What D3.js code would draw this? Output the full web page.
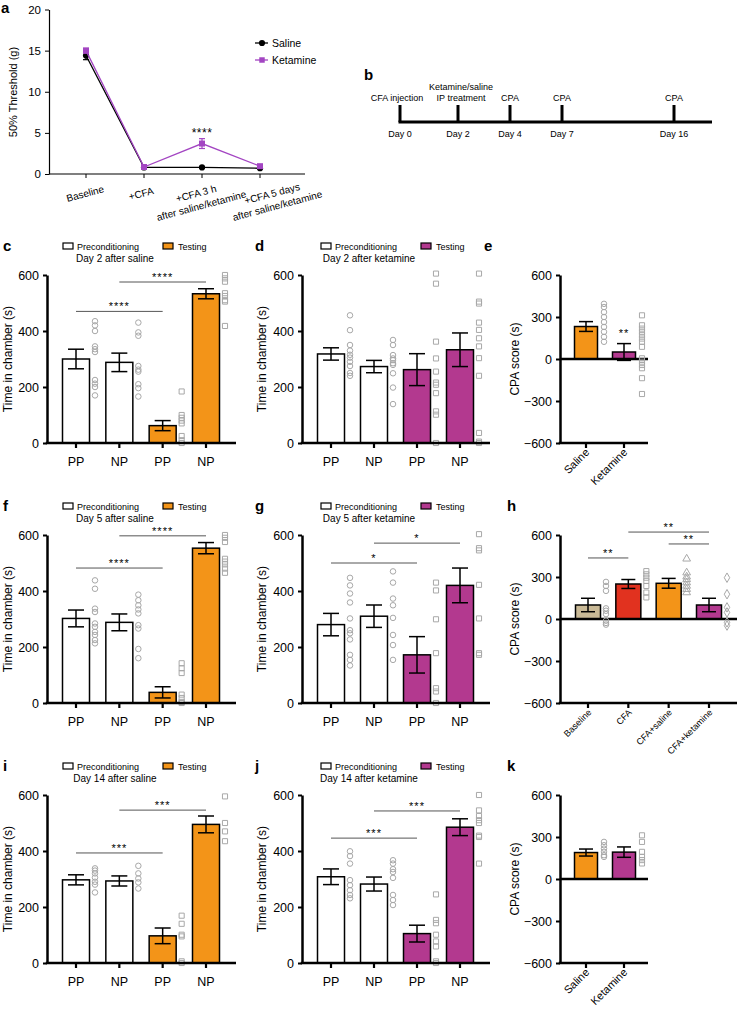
<!DOCTYPE html>
<html><head><meta charset="utf-8">
<script src="https://cdn.jsdelivr.net/npm/d3@7"></script>
<style>body{margin:0;background:#fff} svg{display:block} text{font-family:"Liberation Sans",Arial,Helvetica,sans-serif;fill:#000}</style>
</head><body><svg width="737" height="1011"></svg>
<script>
// ---------- DATA ----------
// panel a
const aCategories = ["Baseline", "+CFA", "+CFA 3 h|after saline/ketamine", "+CFA 5 days|after saline/ketamine"];
const aSaline = [14.4, 0.8, 0.8, 0.7];
const aSalineErr = [0.5, 0.1, 0.1, 0.1];
const aKetamine = [15.0, 0.85, 3.7, 0.95];
const aKetamineErr = [0.3, 0.15, 0.6, 0.2];
const aTicks = [0, 5, 10, 15, 20];
// panel b
const bDays = [0, 2, 4, 7, 16];
const bEvents = [["CFA injection"], ["Ketamine/saline", "IP treatment"], ["CPA"], ["CPA"], ["CPA"]];
// chamber panels
const chamberCats = ["PP", "NP", "PP", "NP"];
const chamberTicks = [0, 200, 400, 600];
const cpaTicks = [-600, -300, 0, 300, 600];
const cMeans = [300, 288, 62, 533], cErr = [35, 33, 18, 18];
const cDots = [[435,420,400,345,335,325,225,212,200,170],[430,395,383,275,262,255,210,196,166],[184,100,90,80,70,25,10,0],[600,588,576,535,525,510,505,418]];
const cSig = [[0,2,470,"****"],[1,3,575,"****"]];
const dMeans = [318, 273, 262, 333], dErr = [22, 22, 57, 60];
const dDots = [[456,403,350,330,315,305,290,275,250,240],[368,350,314,302,296,285,279,249,198,139],[605,569,362,302,255,216,208,178,113,101,0],[605,505,498,430,404,374,345,303,240,36,5,0]];
const eCats = ["Saline", "Ketamine"];
const eMeans = [232, 50], eErr = [35, 60];
const eDots = [[394,371,335,300,264,229,194,158,123],[312,241,217,194,170,146,123,87,5,-19,-43,-66,-137,-250]];
const eSig = [[1,1,150,"**"]];
const fMeans = [302, 288, 38, 553], fErr = [30, 30, 20, 20];
const fDots = [[438,408,337,325,284,272,254,243,225,213],[387,367,349,334,320,278,266,193,160],[142,124,107,30,18,4,0],[600,590,575,515,505,495,480,465]];
const fSig = [[0,2,482,"****"],[1,3,597,"****"]];
const gMeans = [280, 310, 172, 420], gErr = [40, 40, 65, 62];
const gDots = [[447,420,391,359,302,260,249,227,172,154,134],[470,430,373,349,304,243,207,154],[430,402,299,178,53,41,0],[603,553,545,422,302,178,172]];
const gSig = [[0,2,500,"*"],[1,3,571,"*"]];
const hCats = ["Baseline", "CFA", "CFA+saline", "CFA+ketamine"];
const hMeans = [100, 250, 255, 100], hErr = [48, 32, 35, 48];
const hDots = [[265,236,201,76,59,35,-12,-28,-40],[342,319,295,272,236,189,154],[430,331,302,283,260,236,213,189],[295,177,83,47,-24,-47]];
const hSig = [[0,1,436,"**"],[1,3,621,"**"],[2,3,536,"**"]];
const iMeans = [297, 293, 97, 495], iErr = [18, 18, 28, 30];
const iDots = [[338,330,320,305,290,280,252],[347,320,302,288,266],[169,140,101,95,6,0],[595,500,470,435]];
const iSig = [[0,2,393,"***"],[1,3,546,"***"]];
const jMeans = [308, 282, 105, 485], jErr = [28, 25, 30, 30];
const jDots = [[399,382,355,296,278,260,243,231],[367,355,335,325,304,243,225,207],[245,154,142,101,77,59,6,0],[600,545,525,510,500,455,450,355]];
const jSig = [[0,2,446,"***"],[1,3,543,"***"]];
const kMeans = [189, 192], kErr = [25, 37];
const kDots = [[265,241,217,194,170,158],[312,265,194,158,135,111]];

// ---------- STYLE ----------
const ORANGE = "#f39418", MAGENTA = "#b3398f", TAN = "#c9b996", RED = "#e1321f", PURPLE = "#a345c2";
const DOT = "#a8a8a8";
const svg = d3.select("svg");

function letter(t, x, y) {
  svg.append("text").attr("x", x).attr("y", y).attr("font-size", 15).attr("font-weight", "bold").text(t);
}

// ---------- PANEL a ----------
(function () {
  const g = svg.append("g");
  const y = d3.scaleLinear().domain([0, 20]).range([174, 9.5]);
  const x = d3.scalePoint().domain(aCategories).range([86, 260]);
  const labelShift = [0, -2, -5, 13];
  const ya = g.append("g").attr("transform", "translate(49,0)")
    .call(d3.axisLeft(y).tickValues(aTicks).tickSize(4).tickPadding(4).tickSizeOuter(0));
  ya.select(".domain").attr("stroke-width", 1.2);
  ya.selectAll("text").attr("font-size", 11.5).attr("font-family", "Liberation Sans, Arial");
  g.append("line").attr("x1", 49).attr("x2", 305).attr("y1", 174).attr("y2", 174).attr("stroke", "#000").attr("stroke-width", 1.2);
  aCategories.forEach((c, ci) => {
    g.append("line").attr("x1", x(c)).attr("x2", x(c)).attr("y1", 174).attr("y2", 178).attr("stroke", "#000");
    const lines = c.split("|");
    const t = g.append("text").attr("text-anchor", "middle").attr("font-size", 10)
      .attr("transform", `translate(${x(c) + labelShift[ci]},${197}) rotate(-15)`);
    lines.forEach((l, i) => t.append("tspan").attr("x", i === 0 ? 0 : 2).attr("dy", i === 0 ? 0 : 13).text(l));
  });
  g.append("text").attr("transform", "translate(17,92) rotate(-90)").attr("text-anchor", "middle").attr("font-size", 11).text("50% Threshold (g)");
  const line = d3.line().x((d, i) => x(aCategories[i])).y(d => y(d));
  const series = [
    { v: aSaline, e: aSalineErr, c: "#000", s: d3.symbolCircle, size: 30 },
    { v: aKetamine, e: aKetamineErr, c: PURPLE, s: d3.symbolSquare, size: 36 }
  ];
  series.forEach(se => {
    g.append("path").attr("d", line(se.v)).attr("fill", "none").attr("stroke", se.c).attr("stroke-width", 1.3);
    se.v.forEach((v, i) => {
      const cx = x(aCategories[i]);
      g.append("line").attr("x1", cx).attr("x2", cx).attr("y1", y(v - se.e[i])).attr("y2", y(v + se.e[i])).attr("stroke", se.c).attr("stroke-width", 1.2);
      [v - se.e[i], v + se.e[i]].forEach(w => g.append("line").attr("x1", cx - 3).attr("x2", cx + 3).attr("y1", y(w)).attr("y2", y(w)).attr("stroke", se.c).attr("stroke-width", 1.2));
      g.append("path").attr("d", d3.symbol().type(se.s).size(se.size)()).attr("transform", `translate(${cx},${y(v)})`).attr("fill", se.c);
    });
  });
  g.append("text").attr("x", x(aCategories[2])).attr("y", y(aKetamine[2] + aKetamineErr[2]) - 2).attr("text-anchor", "middle").attr("font-size", 12).attr("letter-spacing", 0.5).text("****");
  [["Saline", "#000", d3.symbolCircle, 43], ["Ketamine", PURPLE, d3.symbolSquare, 60]].forEach(([t, c, s, ly]) => {
    g.append("line").attr("x1", 255).attr("x2", 268).attr("y1", ly).attr("y2", ly).attr("stroke", c).attr("stroke-width", 1.3);
    g.append("path").attr("d", d3.symbol().type(s).size(30)()).attr("transform", `translate(262,${ly})`).attr("fill", c);
    g.append("text").attr("x", 272).attr("y", ly + 4).attr("font-size", 10.5).text(t);
  });
})();
letter("a", 1, 13);

// ---------- PANEL b ----------
(function () {
  const g = svg.append("g");
  const bx = d3.scaleLinear().domain(bDays).range([400, 458, 510, 562, 674]);
  const lineY = 122;
  const shift = [-3, 3, 0, 0, 0];
  g.append("line").attr("x1", bx(0) - 1.5).attr("x2", bx(16) + 38).attr("y1", lineY).attr("y2", lineY).attr("stroke", "#000").attr("stroke-width", 3);
  bDays.forEach((d, i) => {
    g.append("line").attr("x1", bx(d)).attr("x2", bx(d)).attr("y1", 105).attr("y2", lineY).attr("stroke", "#000").attr("stroke-width", 3);
    g.append("text").attr("x", bx(d)).attr("y", 136.5).attr("text-anchor", "middle").attr("font-size", 9).text("Day " + d);
    const ev = bEvents[i];
    ev.forEach((l, k) => g.append("text").attr("x", bx(d) + shift[i]).attr("y", 101 - (ev.length - 1 - k) * 11).attr("text-anchor", "middle").attr("font-size", 9).text(l));
  });
})();
letter("b", 364, 80);

// ---------- BAR PANELS ----------
function barPanel(o) {
  const g = svg.append("g");
  const y = d3.scaleLinear().domain(o.domain).range([o.yBot, o.yTop]);
  const x = d3.scalePoint().domain(d3.range(o.means.length)).range(o.centers);
  o.means.forEach((m, i) => {
    const cx = x(i);
    g.append("rect").attr("x", cx - o.bw / 2).attr("y", y(Math.max(0, m))).attr("width", o.bw)
      .attr("height", Math.abs(y(m) - y(0))).attr("fill", o.fills[i]).attr("stroke", "#000").attr("stroke-width", 1.5);
  });
  if (o.domain[0] < 0) g.append("line").attr("x1", o.x0).attr("x2", o.xEnd).attr("y1", y(0)).attr("y2", y(0)).attr("stroke", "#000").attr("stroke-width", 2.5);
  o.means.forEach((m, i) => {
    const cx = x(i), e = o.errs[i];
    g.append("line").attr("x1", cx).attr("x2", cx).attr("y1", y(m - e)).attr("y2", y(m + e)).attr("stroke", "#000").attr("stroke-width", 1.5);
    [m - e, m + e].forEach(w => g.append("line").attr("x1", cx - o.cap).attr("x2", cx + o.cap).attr("y1", y(w)).attr("y2", y(w)).attr("stroke", "#000").attr("stroke-width", 1.5));
  });
  o.dots.forEach((arr, i) => {
    const sym = d3.symbol().type(o.shapes[i]).size(o.shapes[i] === d3.symbolCircle ? 24 : 26)();
    arr.forEach(v => g.append("path").attr("d", sym).attr("transform", `translate(${x(i) + o.dotOff},${y(v)})`)
      .attr("fill", "none").attr("stroke", DOT).attr("stroke-width", 1));
  });
  const ya = g.append("g").attr("transform", `translate(${o.x0},0)`)
    .call(d3.axisLeft(y).tickValues(o.ticks).tickFormat(d => d < 0 ? "\u2212" + Math.abs(d) : d).tickSize(4).tickPadding(4).tickSizeOuter(0));
  ya.select(".domain").attr("stroke-width", 2.5);
  ya.selectAll(".tick line").attr("stroke-width", 2);
  ya.selectAll("text").attr("font-size", 12.5).attr("font-family", "Liberation Sans, Arial");
  g.append("line").attr("x1", o.x0 - 1.25).attr("x2", o.xEnd).attr("y1", o.yBot).attr("y2", o.yBot).attr("stroke", "#000").attr("stroke-width", 2.5);
  o.cats.forEach((c, i) => {
    g.append("line").attr("x1", x(i)).attr("x2", x(i)).attr("y1", o.yBot).attr("y2", o.yBot + 5).attr("stroke", "#000").attr("stroke-width", 2.2);
    if (o.rotate) {
      g.append("text").attr("text-anchor", "end").attr("font-size", o.rotFont)
        .attr("transform", `translate(${x(i) + 4},${o.yBot + 10}) rotate(-45)`).text(c);
    } else {
      g.append("text").attr("x", x(i)).attr("y", o.yBot + 23).attr("text-anchor", "middle").attr("font-size", 12.5).text(c);
    }
  });
  g.append("text").attr("transform", `translate(${o.labelX},${(o.yTop + o.yBot) / 2}) rotate(-90)`)
    .attr("text-anchor", "middle").attr("font-size", 12).text(o.ylabel);
  (o.sig || []).forEach(([a, b, v, s]) => {
    if (a !== b) g.append("line").attr("x1", x(a)).attr("x2", x(b)).attr("y1", y(v)).attr("y2", y(v)).attr("stroke", "#555").attr("stroke-width", 1);
    g.append("text").attr("x", (x(a) + x(b)) / 2).attr("y", y(v) - 1).attr("text-anchor", "middle").attr("font-size", 11).attr("letter-spacing", 1).text(s);
  });
  if (o.legend) {
    const ly = o.yTop - 29;
    g.append("rect").attr("x", o.legX).attr("y", ly - 3).attr("width", 10).attr("height", 6).attr("fill", "#fff").attr("stroke", "#000").attr("stroke-width", 1.2);
    g.append("text").attr("x", o.legX + 14).attr("y", ly + 3.5).attr("font-size", 9).text("Preconditioning");
    g.append("rect").attr("x", o.legX + 100).attr("y", ly - 3).attr("width", 10).attr("height", 6).attr("fill", o.testFill).attr("stroke", "#000").attr("stroke-width", 1.2);
    g.append("text").attr("x", o.legX + 115).attr("y", ly + 3.5).attr("font-size", 9).text("Testing");
    g.append("text").attr("x", o.titleX).attr("y", o.yTop - 13).attr("text-anchor", "middle").attr("font-size", 10).text(o.title);
  }
}

const rows = [{ top: 275, bot: 443 }, { top: 535, bot: 703 }, { top: 795, bot: 963 }];
const col1 = { x0: 47, centers: [76, 206], xEnd: 236, labelX: 12, legX: 63, titleX: 115 };
const col2 = { x0: 302, centers: [331, 460], xEnd: 490, labelX: 266, legX: 321, titleX: 369 };
const wF = "#fff";
const chamberShapes = [d3.symbolCircle, d3.symbolCircle, d3.symbolSquare, d3.symbolSquare];

function chamber(col, row, means, errs, dots, sig, testFill, title) {
  barPanel(Object.assign({}, col, {
    yTop: rows[row].top, yBot: rows[row].bot, domain: [0, 600], ticks: chamberTicks, cats: chamberCats,
    means, errs, dots, sig, fills: [wF, wF, testFill, testFill], shapes: chamberShapes,
    bw: 27, cap: 8, dotOff: 19, ylabel: "Time in chamber (s)", legend: true, testFill, title
  }));
}
chamber(col1, 0, cMeans, cErr, cDots, cSig, ORANGE, "Day 2 after saline");
chamber(col2, 0, dMeans, dErr, dDots, [], MAGENTA, "Day 2 after ketamine");
chamber(col1, 1, fMeans, fErr, fDots, fSig, ORANGE, "Day 5 after saline");
chamber(col2, 1, gMeans, gErr, gDots, gSig, MAGENTA, "Day 5 after ketamine");
chamber(col1, 2, iMeans, iErr, iDots, iSig, ORANGE, "Day 14 after saline");
chamber(col2, 2, jMeans, jErr, jDots, jSig, MAGENTA, "Day 14 after ketamine");

function cpa(row, cats, means, errs, dots, sig, fills, shapes, centers, bw, xEnd, rotFont) {
  barPanel({
    x0: 560, centers, xEnd, labelX: 519, yTop: rows[row].top, yBot: rows[row].bot, domain: [-600, 600], ticks: cpaTicks,
    cats, means, errs, dots, sig, fills, shapes, bw, cap: 7, dotOff: 18, ylabel: "CPA score (s)", rotate: true, rotFont
  });
}
cpa(0, eCats, eMeans, eErr, eDots, eSig, [ORANGE, MAGENTA], [d3.symbolCircle, d3.symbolSquare], [586, 624], 23, 648, 11);
cpa(1, hCats, hMeans, hErr, hDots, hSig, [TAN, RED, ORANGE, MAGENTA], [d3.symbolCircle, d3.symbolSquare, d3.symbolTriangle, d3.symbolDiamond], [588, 709], 25, 737, 9);
cpa(2, eCats, kMeans, kErr, kDots, [], [ORANGE, MAGENTA], [d3.symbolCircle, d3.symbolSquare], [586, 624], 23, 648, 11);

letter("c", 3, 251); letter("d", 255, 251); letter("e", 484, 251);
letter("f", 3, 511); letter("g", 255, 511); letter("h", 507, 511);
letter("i", 3, 771); letter("j", 255, 771); letter("k", 507, 771);
</script></body></html>
